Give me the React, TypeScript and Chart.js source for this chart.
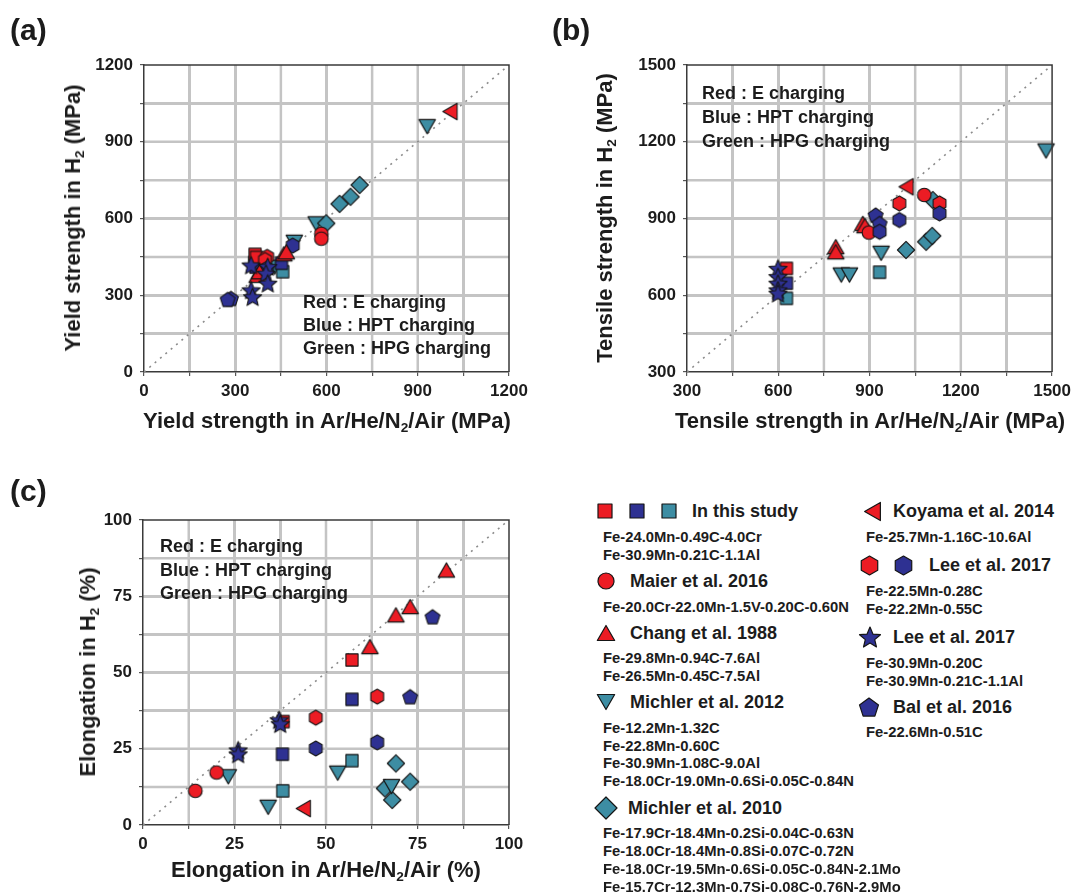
import React, { useEffect, useRef, useState } from 'react';
import { Chart, registerables } from 'chart.js';

Chart.register(...registerables);

const FONT = '"Liberation Sans", Arial, Helvetica, sans-serif';
const RED = '#EC1C24';
const BLUE = '#2E3192';
const TEAL = '#3D8DA3';
const INK = '#1c1c1c';
const GRID = '#c4c4c4';

type Pt = { x: number; y: number };
type Shape = 'square' | 'circle' | 'triUp' | 'triDown' | 'triLeft' | 'diamond' | 'hexagon' | 'pentagon' | 'star';

// ---------- tick labels ----------
const yieldTicks = [0, 300, 600, 900, 1200];
const tensileTicks = [300, 600, 900, 1200, 1500];
const elongTicks = [0, 25, 50, 75, 100];

// ---------- (a) Yield strength: x = Ar/He/N2/Air, y = H2 ----------
const ysStudyE: Pt[] = [{ x: 365, y: 460 }, { x: 370, y: 448 }];
const ysStudyHPT: Pt[] = [{ x: 452, y: 425 }, { x: 368, y: 410 }];
const ysStudyHPG: Pt[] = [{ x: 364, y: 428 }, { x: 456, y: 392 }];
const ysMaier: Pt[] = [{ x: 583, y: 540 }, { x: 583, y: 521 }];
const ysChang: Pt[] = [{ x: 460, y: 462 }, { x: 468, y: 470 }, { x: 372, y: 378 }, { x: 380, y: 392 }];
const ysMichler12: Pt[] = [{ x: 931, y: 959 }, { x: 566, y: 579 }, { x: 494, y: 507 }, { x: 430, y: 410 }];
const ysMichler10: Pt[] = [{ x: 709, y: 731 }, { x: 679, y: 685 }, { x: 643, y: 657 }, { x: 599, y: 581 }];
const ysKoyama: Pt[] = [{ x: 1006, y: 1018 }];
const ysLeeHexE: Pt[] = [{ x: 405, y: 450 }, { x: 398, y: 438 }];
const ysLeeHexHPT: Pt[] = [{ x: 489, y: 494 }, { x: 404, y: 404 }];
const ysLeeStar: Pt[] = [{ x: 352, y: 418 }, { x: 407, y: 412 }, { x: 401, y: 386 }, { x: 407, y: 347 }, { x: 352, y: 321 }, { x: 357, y: 294 }];
const ysBal: Pt[] = [{ x: 286, y: 288 }, { x: 275, y: 284 }];

// ---------- (b) Tensile strength ----------
const tsStudyE: Pt[] = [{ x: 627, y: 705 }];
const tsStudyHPT: Pt[] = [{ x: 627, y: 647 }];
const tsStudyHPG: Pt[] = [{ x: 627, y: 588 }, { x: 933, y: 690 }];
const tsMaier: Pt[] = [{ x: 1080, y: 992 }, { x: 898, y: 845 }];
const tsChang: Pt[] = [{ x: 878, y: 881 }, { x: 885, y: 872 }, { x: 789, y: 790 }, { x: 789, y: 770 }];
const tsMichler12: Pt[] = [{ x: 1480, y: 1164 }, { x: 807, y: 679 }, { x: 834, y: 679 }, { x: 938, y: 764 }];
const tsMichler10: Pt[] = [{ x: 1108, y: 972 }, { x: 1020, y: 777 }, { x: 1086, y: 809 }, { x: 1106, y: 832 }];
const tsKoyama: Pt[] = [{ x: 1020, y: 1024 }];
const tsLeeHexE: Pt[] = [{ x: 998, y: 959 }, { x: 1130, y: 959 }];
const tsLeeHexHPT: Pt[] = [{ x: 998, y: 894 }, { x: 1130, y: 920 }, { x: 933, y: 848 }];
const tsLeeStar: Pt[] = [{ x: 599, y: 705 }, { x: 599, y: 673 }, { x: 599, y: 647 }, { x: 599, y: 621 }, { x: 599, y: 608 }];
const tsBal: Pt[] = [{ x: 920, y: 914 }, { x: 933, y: 881 }];

// ---------- (c) Elongation ----------
const elStudyE: Pt[] = [{ x: 57.1, y: 54.1 }, { x: 38.3, y: 33.9 }];
const elStudyHPT: Pt[] = [{ x: 57.1, y: 41.2 }, { x: 38.1, y: 23.2 }];
const elStudyHPG: Pt[] = [{ x: 57.1, y: 21.1 }, { x: 38.2, y: 11.2 }];
const elMaier: Pt[] = [{ x: 20.1, y: 17.2 }, { x: 14.3, y: 11.2 }];
const elChang: Pt[] = [{ x: 82.9, y: 83.6 }, { x: 73.0, y: 71.6 }, { x: 69.1, y: 68.9 }, { x: 62.0, y: 58.5 }];
const elMichler12: Pt[] = [{ x: 53.2, y: 17.0 }, { x: 23.3, y: 15.8 }, { x: 67.9, y: 12.6 }, { x: 34.2, y: 5.8 }];
const elMichler10: Pt[] = [{ x: 69.1, y: 20.2 }, { x: 73.0, y: 14.2 }, { x: 66.1, y: 12.0 }, { x: 68.1, y: 8.2 }];
const elKoyama: Pt[] = [{ x: 43.8, y: 5.4 }];
const elLeeHexE: Pt[] = [{ x: 64.0, y: 42.1 }, { x: 47.2, y: 35.2 }];
const elLeeHexHPT: Pt[] = [{ x: 64.0, y: 27.1 }, { x: 47.2, y: 25.1 }];
const elLeeStar: Pt[] = [{ x: 37.2, y: 34.5 }, { x: 37.5, y: 33.2 }, { x: 26.0, y: 24.6 }, { x: 26.0, y: 23.3 }];
const elBal: Pt[] = [{ x: 79.1, y: 68.3 }, { x: 73.0, y: 42.1 }];

// ---------- legend texts ----------
const chargingNotes = ['Red : E charging', 'Blue : HPT charging', 'Green : HPG charging'];
const studyAlloys = ['Fe-24.0Mn-0.49C-4.0Cr', 'Fe-30.9Mn-0.21C-1.1Al'];
const maierAlloys = ['Fe-20.0Cr-22.0Mn-1.5V-0.20C-0.60N'];
const changAlloys = ['Fe-29.8Mn-0.94C-7.6Al', 'Fe-26.5Mn-0.45C-7.5Al'];
const michler12Alloys = ['Fe-12.2Mn-1.32C', 'Fe-22.8Mn-0.60C', 'Fe-30.9Mn-1.08C-9.0Al', 'Fe-18.0Cr-19.0Mn-0.6Si-0.05C-0.84N'];
const michler10Alloys = ['Fe-17.9Cr-18.4Mn-0.2Si-0.04C-0.63N', 'Fe-18.0Cr-18.4Mn-0.8Si-0.07C-0.72N', 'Fe-18.0Cr-19.5Mn-0.6Si-0.05C-0.84N-2.1Mo', 'Fe-15.7Cr-12.3Mn-0.7Si-0.08C-0.76N-2.9Mo'];
const koyamaAlloys = ['Fe-25.7Mn-1.16C-10.6Al'];
const leeHexAlloys = ['Fe-22.5Mn-0.28C', 'Fe-22.2Mn-0.55C'];
const leeStarAlloys = ['Fe-30.9Mn-0.20C', 'Fe-30.9Mn-0.21C-1.1Al'];
const balAlloys = ['Fe-22.6Mn-0.51C'];

// ---------- marker geometry ----------
const PLOT_R: Record<Shape, number> = {
  square: 8.6, circle: 6.8, triUp: 9.5, triDown: 9.5, triLeft: 9.5,
  diamond: 8.6, hexagon: 7.4, pentagon: 7.8, star: 9.5,
};

function shapePoints(shape: Shape, cx: number, cy: number, R: number): number[][] {
  const reg = (n: number, start: number, dx = 0, dy = 0) =>
    Array.from({ length: n }, (_, i) => {
      const a = ((start + (i * 360) / n) * Math.PI) / 180;
      return [cx + dx + R * Math.cos(a), cy + dy + R * Math.sin(a)];
    });
  switch (shape) {
    case 'square': return reg(4, 45);
    case 'triUp': return reg(3, -90, 0, R / 4);
    case 'triDown': return reg(3, 90, 0, -R / 4);
    case 'triLeft': return reg(3, 180, R / 4, 0);
    case 'diamond': return reg(4, -90);
    case 'hexagon': return reg(6, -90);
    case 'pentagon': return reg(5, -90, 0, R * 0.1);
    case 'star': {
      const pts: number[][] = [];
      for (let i = 0; i < 10; i++) {
        const r = i % 2 === 0 ? R : R * 0.45;
        const a = ((-90 + i * 36) * Math.PI) / 180;
        pts.push([cx + r * Math.cos(a), cy + R * 0.1 + r * Math.sin(a)]);
      }
      return pts;
    }
    default: return [];
  }
}

const markerCache = new Map<string, HTMLCanvasElement>();
function markerCanvas(shape: Shape, color: string): HTMLCanvasElement {
  const key = shape + color;
  const hit = markerCache.get(key);
  if (hit) return hit;
  const R = PLOT_R[shape];
  const s = Math.ceil(2 * R + 4);
  const c = document.createElement('canvas');
  c.width = s; c.height = s;
  const ctx = c.getContext('2d')!;
  ctx.fillStyle = color;
  ctx.strokeStyle = '#151515';
  ctx.lineWidth = 1.1;
  ctx.lineJoin = 'round';
  ctx.beginPath();
  if (shape === 'circle') {
    ctx.arc(s / 2, s / 2, R, 0, Math.PI * 2);
  } else {
    shapePoints(shape, s / 2, s / 2, R).forEach((p, i) => (i === 0 ? ctx.moveTo(p[0], p[1]) : ctx.lineTo(p[0], p[1])));
    ctx.closePath();
  }
  ctx.fill();
  ctx.stroke();
  markerCache.set(key, c);
  return c;
}

type Series = { data: Pt[]; shape: Shape; color: string };

// grid lines from the chart's own scales, painted behind everything, plus a box frame
const framePlugin = {
  id: 'frame',
  afterDraw(chart: any) {
    const { ctx, chartArea, scales } = chart;
    const { left, top, right, bottom } = chartArea;
    ctx.save();
    ctx.globalCompositeOperation = 'destination-over';
    ctx.strokeStyle = GRID;
    ctx.lineWidth = 2.5;
    ctx.setLineDash([]);
    for (const t of scales.x.ticks) {
      const px = scales.x.getPixelForValue(t.value);
      if (px > left + 1 && px < right - 1) {
        ctx.beginPath(); ctx.moveTo(px, top); ctx.lineTo(px, bottom); ctx.stroke();
      }
    }
    for (const t of scales.y.ticks) {
      const py = scales.y.getPixelForValue(t.value);
      if (py > top + 1 && py < bottom - 1) {
        ctx.beginPath(); ctx.moveTo(left, py); ctx.lineTo(right, py); ctx.stroke();
      }
    }
    ctx.globalCompositeOperation = 'source-over';
    ctx.strokeStyle = '#3a3a3a';
    ctx.lineWidth = 1.5;
    ctx.beginPath();
    ctx.moveTo(left, top); ctx.lineTo(right, top); ctx.lineTo(right, bottom);
    ctx.stroke();
    ctx.restore();
  },
};

type PanelProps = {
  left: number; top: number; width: number; height: number;
  padTop: number; padRight: number; yWidth: number; xHeight: number;
  ticks: number[]; series: Series[];
};

type GridInfo = { xs: number[]; ys: number[]; l: number; t: number; r: number; b: number };

function Panel(p: PanelProps) {
  const ref = useRef<HTMLCanvasElement>(null);
  const [grid, setGrid] = useState<GridInfo | null>(null);
  useEffect(() => {
    const min = p.ticks[0];
    const max = p.ticks[p.ticks.length - 1];
    const step = (p.ticks[1] - p.ticks[0]) / 2;
    const datasets: any[] = p.series.map((s) => ({
      type: 'scatter',
      data: s.data,
      pointStyle: markerCanvas(s.shape, s.color),
      pointRadius: PLOT_R[s.shape],
      pointHoverRadius: PLOT_R[s.shape],
      clip: false,
    }));
    datasets.push({
      type: 'line',
      data: [{ x: min, y: min }, { x: max, y: max }],
      borderColor: '#8c8c8c',
      borderWidth: 1.6,
      borderDash: [2, 5],
      pointRadius: 0,
      fill: false,
      tension: 0,
    });
    const tickFont = { family: FONT, size: 17, weight: 'bold' as const };
    const axis = (isX: boolean) => ({
      type: 'linear' as const,
      min, max,
      ticks: {
        stepSize: step,
        autoSkip: false,
        maxRotation: 0,
        padding: isX ? 5 : 7,
        color: INK,
        font: tickFont,
        callback: (v: any) => (p.ticks.includes(Number(v)) ? String(v) : ''),
      },
      grid: { display: true, drawOnChartArea: false, drawTicks: true, tickLength: 4, tickColor: '#555', color: '#555', lineWidth: 1.2 },
      border: { color: '#3a3a3a', width: 1.5 },
      afterFit: (scale: any) => {
        if (isX) scale.height = p.xHeight; else scale.width = p.yWidth;
      },
    });
    const chart = new Chart(ref.current!, {
      type: 'scatter',
      data: { datasets },
      options: {
        animation: false,
        responsive: false,
        maintainAspectRatio: false,
        events: [],
        layout: { padding: { top: p.padTop, right: p.padRight, left: 0, bottom: 0 } },
        plugins: { legend: { display: false }, tooltip: { enabled: false } },
        scales: { x: axis(true), y: axis(false) },
      } as any,
      plugins: [framePlugin],
    });
    const sx: any = chart.scales.x;
    const sy: any = chart.scales.y;
    const a = chart.chartArea;
    setGrid({
      xs: sx.ticks.map((t: any) => sx.getPixelForValue(t.value)).filter((v: number) => v > a.left + 1 && v < a.right - 1),
      ys: sy.ticks.map((t: any) => sy.getPixelForValue(t.value)).filter((v: number) => v > a.top + 1 && v < a.bottom - 1),
      l: a.left, t: a.top, r: a.right, b: a.bottom,
    });
    return () => chart.destroy();
  }, []);
  return (
    <>
      {grid && grid.xs.map((x, i) => (
        <div key={'gx' + i} style={{ position: 'absolute', left: p.left + x - 1.25, top: p.top + grid.t, width: 2.5, height: grid.b - grid.t, background: GRID }} />
      ))}
      {grid && grid.ys.map((y, i) => (
        <div key={'gy' + i} style={{ position: 'absolute', left: p.left + grid.l, top: p.top + y - 1.25, width: grid.r - grid.l, height: 2.5, background: GRID }} />
      ))}
      <canvas
        ref={ref}
        width={p.width}
        height={p.height}
        style={{ position: 'absolute', left: p.left, top: p.top, width: p.width, height: p.height }}
      />
    </>
  );
}

function Txt(props: { x: number; y: number; size: number; anchor?: 'left' | 'center'; rotate?: boolean; children: React.ReactNode }) {
  const { x, y, size, anchor = 'left', rotate = false } = props;
  let transform = 'translateY(-50%)';
  if (anchor === 'center') transform = 'translate(-50%,-50%)';
  if (rotate) transform = 'translate(-50%,-50%) rotate(-90deg)';
  return (
    <div style={{ position: 'absolute', left: x, top: y, fontSize: size, fontWeight: 700, lineHeight: 1, whiteSpace: 'nowrap', transform, color: INK }}>
      {props.children}
    </div>
  );
}

const Sub2 = () => <sub style={{ fontSize: '0.62em', lineHeight: 0, verticalAlign: '-0.32em' }}>2</sub>;

function Marker({ shape, color, cx, cy, R }: { shape: Shape; color: string; cx: number; cy: number; R: number }) {
  const s = Math.ceil(R * 2 + 4);
  return (
    <svg width={s} height={s} style={{ position: 'absolute', left: cx - s / 2, top: cy - s / 2 }}>
      {shape === 'circle' ? (
        <circle cx={s / 2} cy={s / 2} r={R} fill={color} stroke="#151515" strokeWidth={1.2} />
      ) : (
        <polygon
          points={shapePoints(shape, s / 2, s / 2, R).map((q) => q.join(',')).join(' ')}
          fill={color}
          stroke="#151515"
          strokeWidth={1.2}
          strokeLinejoin="round"
        />
      )}
    </svg>
  );
}

function Notes({ x, y0, dy }: { x: number; y0: number; dy: number }) {
  return (
    <>
      {chargingNotes.map((t, i) => (
        <Txt key={t} x={x} y={y0 + i * dy} size={18}>{t}</Txt>
      ))}
    </>
  );
}

function Lines({ x, y0, dy, lines }: { x: number; y0: number; dy: number; lines: string[] }) {
  return (
    <>
      {lines.map((t, i) => (
        <Txt key={t + i} x={x} y={y0 + i * dy} size={14.8}>{t}</Txt>
      ))}
    </>
  );
}

export default function App() {
  const seriesA: Series[] = [
    { data: ysKoyama, shape: 'triLeft', color: RED },
    { data: ysLeeStar, shape: 'star', color: BLUE },
    { data: ysChang, shape: 'triUp', color: RED },
    { data: ysLeeHexHPT, shape: 'hexagon', color: BLUE },
    { data: ysLeeHexE, shape: 'hexagon', color: RED },
    { data: ysStudyE, shape: 'square', color: RED },
    { data: ysStudyHPT, shape: 'square', color: BLUE },
    { data: ysStudyHPG, shape: 'square', color: TEAL },
    { data: ysMaier, shape: 'circle', color: RED },
    { data: ysMichler10, shape: 'diamond', color: TEAL },
    { data: ysMichler12, shape: 'triDown', color: TEAL },
    { data: ysBal, shape: 'pentagon', color: BLUE },
  ];
  const seriesB: Series[] = [
    { data: tsLeeStar, shape: 'star', color: BLUE },
    { data: tsKoyama, shape: 'triLeft', color: RED },
    { data: tsLeeHexHPT, shape: 'hexagon', color: BLUE },
    { data: tsLeeHexE, shape: 'hexagon', color: RED },
    { data: tsMaier, shape: 'circle', color: RED },
    { data: tsBal, shape: 'pentagon', color: BLUE },
    { data: tsChang, shape: 'triUp', color: RED },
    { data: tsStudyE, shape: 'square', color: RED },
    { data: tsStudyHPT, shape: 'square', color: BLUE },
    { data: tsStudyHPG, shape: 'square', color: TEAL },
    { data: tsMichler10, shape: 'diamond', color: TEAL },
    { data: tsMichler12, shape: 'triDown', color: TEAL },
  ];
  const seriesC: Series[] = [
    { data: elLeeStar, shape: 'star', color: BLUE },
    { data: elStudyE, shape: 'square', color: RED },
    { data: elStudyHPT, shape: 'square', color: BLUE },
    { data: elStudyHPG, shape: 'square', color: TEAL },
    { data: elMaier, shape: 'circle', color: RED },
    { data: elChang, shape: 'triUp', color: RED },
    { data: elMichler12, shape: 'triDown', color: TEAL },
    { data: elMichler10, shape: 'diamond', color: TEAL },
    { data: elKoyama, shape: 'triLeft', color: RED },
    { data: elLeeHexE, shape: 'hexagon', color: RED },
    { data: elLeeHexHPT, shape: 'hexagon', color: BLUE },
    { data: elBal, shape: 'pentagon', color: BLUE },
  ];

  const LX = 603; // left legend column text x
  const RX = 866; // right legend column text x

  return (
    <div style={{ position: 'absolute', left: 0, top: 0, width: 1076, height: 894, background: '#fff', fontFamily: FONT, overflow: 'hidden' }}>
      <Panel left={0} top={0} width={545} height={410} padTop={65} padRight={36} yWidth={144} xHeight={38} ticks={yieldTicks} series={seriesA} />
      <Panel left={545} top={0} width={531} height={410} padTop={65} padRight={23} yWidth={142} xHeight={38} ticks={tensileTicks} series={seriesB} />
      <Panel left={0} top={440} width={545} height={420} padTop={80} padRight={36} yWidth={143} xHeight={35} ticks={elongTicks} series={seriesC} />

      <Txt x={10} y={30} size={30}>(a)</Txt>
      <Txt x={552} y={30} size={30}>(b)</Txt>
      <Txt x={10} y={491} size={30}>(c)</Txt>

      <Txt x={327} y={421} size={22} anchor="center">Yield strength in Ar/He/N<Sub2 />/Air (MPa)</Txt>
      <Txt x={73} y={218} size={22} rotate>Yield strength in H<Sub2 /> (MPa)</Txt>
      <Txt x={870} y={421} size={22} anchor="center">Tensile strength in Ar/He/N<Sub2 />/Air (MPa)</Txt>
      <Txt x={605} y={218} size={22} rotate>Tensile strength in H<Sub2 /> (MPa)</Txt>
      <Txt x={326} y={870} size={22} anchor="center">Elongation in Ar/He/N<Sub2 />/Air (%)</Txt>
      <Txt x={88} y={672} size={22} rotate>Elongation in H<Sub2 /> (%)</Txt>

      <Notes x={303} y0={302} dy={23} />
      <Notes x={702} y0={93} dy={24} />
      <Notes x={160} y0={546} dy={23.5} />

      {/* legend, left column */}
      <Marker shape="square" color={RED} cx={605} cy={511} R={9.9} />
      <Marker shape="square" color={BLUE} cx={637} cy={511} R={9.9} />
      <Marker shape="square" color={TEAL} cx={669} cy={511} R={9.9} />
      <Txt x={692} y={511} size={18}>In this study</Txt>
      <Lines x={LX} y0={537} dy={17.5} lines={studyAlloys} />

      <Marker shape="circle" color={RED} cx={606} cy={581} R={8} />
      <Txt x={630} y={581} size={18}>Maier et al. 2016</Txt>
      <Lines x={LX} y0={607} dy={17.5} lines={maierAlloys} />

      <Marker shape="triUp" color={RED} cx={606} cy={633} R={10} />
      <Txt x={630} y={633} size={18}>Chang et al. 1988</Txt>
      <Lines x={LX} y0={658} dy={18} lines={changAlloys} />

      <Marker shape="triDown" color={TEAL} cx={606} cy={702} R={10} />
      <Txt x={630} y={702} size={18}>Michler et al. 2012</Txt>
      <Lines x={LX} y0={728} dy={17.7} lines={michler12Alloys} />

      <Marker shape="diamond" color={TEAL} cx={606} cy={808} R={11} />
      <Txt x={628} y={808} size={18}>Michler et al. 2010</Txt>
      <Lines x={LX} y0={833} dy={18} lines={michler10Alloys} />

      {/* legend, right column */}
      <Marker shape="triLeft" color={RED} cx={872} cy={511} R={10.5} />
      <Txt x={893} y={511} size={18}>Koyama et al. 2014</Txt>
      <Lines x={RX} y0={537} dy={17.5} lines={koyamaAlloys} />

      <Marker shape="hexagon" color={RED} cx={869} cy={565} R={9.5} />
      <Marker shape="hexagon" color={BLUE} cx={903} cy={565} R={9.5} />
      <Txt x={929} y={565} size={18}>Lee et al. 2017</Txt>
      <Lines x={RX} y0={591} dy={18} lines={leeHexAlloys} />

      <Marker shape="star" color={BLUE} cx={870} cy={637} R={11} />
      <Txt x={893} y={637} size={18}>Lee et al. 2017</Txt>
      <Lines x={RX} y0={663} dy={18} lines={leeStarAlloys} />

      <Marker shape="pentagon" color={BLUE} cx={869} cy={707} R={10} />
      <Txt x={893} y={707} size={18}>Bal et al. 2016</Txt>
      <Lines x={RX} y0={732} dy={18} lines={balAlloys} />
    </div>
  );
}
